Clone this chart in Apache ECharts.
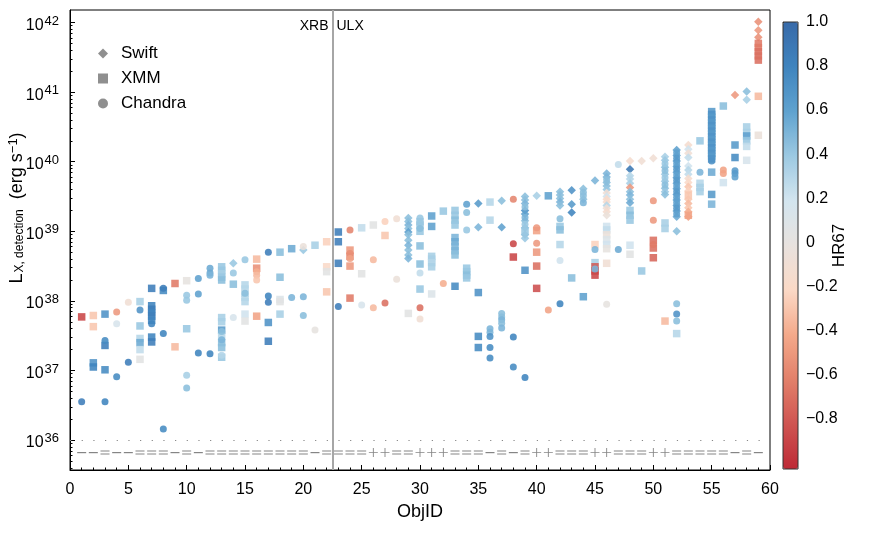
<!DOCTYPE html>
<html><head><meta charset="utf-8">
<script src="https://cdn.jsdelivr.net/npm/echarts@6.0.0/dist/echarts.min.js"></script>
<style>html,body{margin:0;padding:0;background:#fff}#c{width:871px;height:538px}</style>
</head><body><div id="c"></div>
<script>
const FONT = "'Liberation Sans', Arial, sans-serif";

// ---- axes / scales ----
const xMin = 0, xMax = 60, xStep = 5;
const yMinLog = 35.57, yMaxLog = 42.18;          // log10(L_X) range of the plot
const yTickExps = [36, 37, 38, 39, 40, 41, 42];
const hrMin = -1.03, hrMax = 1.0;
const hrTicks = [1.0, 0.8, 0.6, 0.4, 0.2, 0, -0.2, -0.4, -0.6, -0.8];
const hrColors = ['#bd2a36','#cf5451','#e2806a','#f4a98a','#fbd9c6','#e8e2de','#d3e5ef','#9cc9e2','#5fa2cf','#3f84be','#386aa9'];

// ---- reference lines ----
const boundaryObjId = 22.5;        // XRB | ULX split
const detectionFloorLogL = 36;     // dotted line
const flagRowLogL = 35.82;         // row of detection flags

// per-ObjID flags (1..59): '-' , '=' , '+'
const flags = ['-','-','=','-','-','=','=','=','-','=','-','=','=','=','=','=','=','=','=','=','-','=',
  '=','=','=','+','+','=','=','+','+','+','=','=','=','-','=','-','=','+','+','=','=','=','+','+',
  '=','=','=','+','+','=','=','=','=','=','-','=','-'];

// ---- data: [ObjID, log10 L_X (erg/s), HR67] ----
const swiftPts = [
  [14,38.54,0.4],[20,38.73,0.4],
  [29,39.19,0.45],[29,39.14,0.45],[29,39.09,0.5],[29,39.04,0.45],[29,38.99,0.6],[29,38.95,0.45],[29,38.87,0.45],[29,38.80,0.5],[29,38.73,0.45],[29,38.66,0.45],[29,38.61,0.5],
  [35,39.40,0.65],[35,39.06,0.5],
  [37,39.44,0.45],[37,39.06,0.6],
  [39,39.50,0.45],[39,39.45,0.45],[39,39.40,0.5],[39,39.30,0.7],[39,39.25,0.6],[39,39.15,0.45],[39,39.05,0.45],[39,38.95,0.45],[39,38.90,0.4],
  [40,39.51,0.35],
  [42,39.57,0.45],[42,39.52,0.45],[42,39.47,0.45],[42,39.42,0.5],[42,39.37,0.45],
  [43,39.59,0.7],[43,39.39,0.65],[43,39.27,0.8],
  [44,39.61,0.45],[44,39.46,0.45],
  [45,39.73,0.5],
  [46,39.83,0.5],[46,39.78,0.5],[46,39.70,0.45],[46,39.65,0.45],[46,39.60,0.4],[46,39.55,-0.1],[46,39.50,0.2],[46,39.46,-0.2],[46,39.42,-0.15],[46,39.37,0.3],[46,39.33,-0.1],[46,39.28,-0.15],[46,39.23,-0.05],
  [48,40.01,-0.15],[48,39.89,0.9],[48,39.80,0.3],[48,39.75,0.3],[48,39.69,0.35],[48,39.63,-0.5],[48,39.57,0.45],[48,39.52,0.5],[48,39.46,0.45],[48,39.41,0.55],
  [49,40.01,-0.1],[50,40.05,-0.1],
  [51,40.07,0.35],[51,40.02,0.4],[51,39.92,0.45],[51,39.82,0.4],[51,39.72,0.4],[51,39.62,0.45],[51,39.57,0.4],[51,39.53,0.45],
  [52,40.17,0.6],[52,40.09,0.6],[52,40.01,0.65],[52,39.93,0.6],[52,39.85,0.6],[52,39.77,0.65],[52,39.69,0.6],[52,39.61,0.6],[52,39.53,0.65],[52,39.45,0.6],[52,39.37,0.6],[52,39.29,0.6],[52,39.21,0.55],[52,39.00,0.45],
  [53,40.24,-0.15],[53,40.18,0.2],[53,40.12,-0.1],[53,40.06,0.25],[53,39.94,0.2],[53,39.88,0.3],[53,39.82,0.25],[53,39.76,-0.15],[53,39.70,-0.2],[53,39.64,-0.3],[53,39.58,-0.25],[53,39.46,-0.3],[53,39.40,-0.35],[53,39.34,-0.3],[53,39.28,-0.4],[53,39.21,-0.45],
  [57,40.96,-0.5],
  [58,41.01,0.45],[58,40.89,0.35],
  [59,42.01,-0.55],[59,41.89,-0.5],[59,41.79,-0.55]
];

const xmmPts = [
  [1,37.77,-0.9],
  [2,37.79,-0.3],[2,37.63,-0.3],[2,37.11,0.7],[2,37.05,0.8],
  [3,37.81,0.7],[3,37.36,0.85],[3,37.01,0.75],
  [6,37.99,0.35],[6,37.64,0.4],[6,37.46,0.3],[6,37.40,0.55],[6,37.30,0.25],[6,37.16,0.05],
  [7,38.18,0.85],[7,37.93,0.8],[7,37.88,0.85],[7,37.83,0.8],[7,37.78,0.85],[7,37.72,0.8],[7,37.48,0.8],[7,37.41,0.85],
  [8,38.15,0.75],
  [9,38.25,-0.65],[9,37.34,-0.35],
  [10,38.29,0.0],[10,37.60,0.4],
  [13,38.49,0.4],[13,38.44,0.4],[13,38.39,0.35],[13,38.34,0.4],[13,38.30,0.45],[13,37.76,0.35],[13,37.70,0.35],[13,37.58,0.65],[13,37.49,0.3],[13,37.40,0.45],[13,37.33,0.45],[13,37.19,0.4],
  [14,38.24,0.45],
  [15,38.23,0.3],[15,38.17,0.3],[15,38.11,0.25],[15,38.05,0.3],[15,37.99,0.3],[15,37.81,0.2],[15,37.71,0.05],
  [16,38.60,-0.35],[16,38.47,-0.55],[16,37.78,-0.45],
  [17,37.69,0.7],[17,37.42,0.85],
  [18,38.70,0.45],[18,38.34,0.45],[18,38.02,0.1],[18,37.99,0.05],[18,37.81,0.35],
  [19,38.75,0.55],
  [21,38.80,0.35],
  [22,38.85,-0.25],[22,38.49,-0.2],[22,38.42,0.05],[22,38.13,-0.3],
  [23,38.99,0.85],[23,38.85,0.85],[23,38.54,0.85],
  [24,38.73,-0.5],[24,38.64,-0.6],[24,38.50,-0.5],[24,38.04,-0.65],
  [25,39.05,0.25],[25,38.39,0.05],
  [26,39.09,0.05],
  [27,38.94,-0.3],
  [29,37.82,0.05],
  [30,39.14,0.4],[30,39.09,0.4],[30,39.00,0.4],[30,38.79,0.45],[30,38.53,0.45],[30,38.17,0.4],
  [31,39.22,0.6],[31,39.07,0.6],[31,38.64,0.35],[31,38.60,0.35],[31,38.55,0.3],[31,38.49,0.35],[31,38.10,0.1],
  [32,39.29,0.4],
  [33,39.30,0.4],[33,39.23,0.4],[33,39.16,0.45],[33,39.09,0.4],[33,38.91,0.5],[33,38.85,0.55],[33,38.78,0.5],[33,38.72,0.5],[33,38.66,0.45],[33,38.21,0.75],
  [34,38.47,0.4],[34,38.42,0.4],[34,38.37,0.45],[34,38.33,0.4],
  [35,38.12,0.7],[35,37.49,0.75],[35,37.33,0.75],
  [36,39.42,0.3],[36,39.16,0.3],
  [38,38.63,-0.9],
  [39,39.00,0.4],[39,38.44,0.7],
  [40,39.01,-0.45],[40,38.70,-0.5],[40,38.50,-0.7],[40,38.18,-0.85],
  [41,39.51,0.6],
  [42,39.07,0.4],[42,39.02,0.45],[42,38.81,0.3],
  [43,38.33,0.45],
  [44,38.06,0.6],
  [45,38.81,-0.25],[45,38.55,0.35],[45,38.49,-0.8],[45,38.43,-0.85],[45,38.37,-0.9],
  [46,39.07,0.2],[46,39.02,0.25],[46,38.95,-0.05],[46,38.88,0.1],[46,38.81,0.2],[46,38.75,0.0],[46,38.54,-0.1],
  [48,39.30,0.4],[48,39.23,0.45],[48,39.16,0.4],[48,38.80,0.2],[48,38.67,0.05],
  [49,38.43,0.4],
  [50,38.87,-0.7],[50,38.76,-0.7],[50,38.62,-0.75],
  [51,39.12,0.35],[51,39.04,0.35],[51,37.71,-0.35],
  [52,37.53,0.3],
  [53,39.52,-0.3],[53,39.23,-0.45],
  [54,40.30,0.4],[54,39.69,0.3],[54,39.63,0.35],[54,39.57,0.35],
  [55,40.72,0.65],[55,40.68,0.7],[55,40.64,0.65],[55,40.60,0.7],[55,40.56,0.65],[55,40.52,0.7],[55,40.48,0.65],[55,40.44,0.7],[55,40.40,0.65],[55,40.36,0.7],[55,40.32,0.65],[55,40.28,0.7],[55,40.24,0.65],[55,40.20,0.7],[55,40.16,0.65],[55,40.12,0.7],[55,40.08,0.65],[55,40.04,0.7],
  [55,39.85,0.55],[55,39.53,0.65],[55,39.39,0.5],
  [56,40.80,0.45],[56,39.70,0.2],
  [57,40.24,0.65],[57,40.06,0.75],
  [58,40.50,0.35],[58,40.42,0.35],[58,40.37,0.6],[58,40.30,0.4],[58,40.22,0.25],[58,40.02,0.15],
  [59,41.70,-0.65],[59,41.64,-0.65],[59,41.58,-0.7],[59,41.52,-0.7],[59,41.46,-0.7],[59,40.94,-0.35],[59,40.38,-0.05]
];

const chandraPts = [
  [1,36.55,0.85],
  [3,37.43,0.75],[3,36.55,0.8],
  [4,37.84,-0.5],[4,37.67,0.15],[4,36.91,0.75],
  [5,37.98,-0.1],[5,37.12,0.85],
  [6,37.87,0.7],
  [7,37.67,0.8],
  [8,38.18,0.85],[8,37.53,0.8],[8,36.16,0.75],
  [10,38.08,0.4],[10,38.01,0.4],[10,36.93,0.35],[10,36.75,0.45],
  [11,38.32,0.6],[11,38.10,0.6],[11,37.25,0.8],
  [12,38.47,0.55],[12,38.40,0.55],[12,38.37,0.5],[12,37.24,0.8],
  [13,37.56,0.45],[13,37.44,0.5],[13,37.22,0.3],
  [14,38.40,0.4],[14,37.76,0.15],
  [15,38.59,0.4],[15,38.11,0.45],
  [16,38.42,-0.4],[16,38.37,-0.35],[16,38.30,-0.3],
  [17,38.70,0.85],[17,38.07,0.8],[17,37.98,0.85],
  [19,38.05,0.5],
  [20,38.78,-0.05],[20,38.06,0.5],[20,37.79,0.45],
  [21,37.58,0.0],
  [23,37.92,0.85],
  [24,39.02,-0.6],[24,38.68,-0.55],[24,38.61,-0.45],
  [25,37.94,0.15],
  [26,38.59,-0.35],[26,37.90,-0.35],
  [27,39.14,-0.25],[27,37.97,-0.7],
  [28,39.18,-0.1],[28,38.31,-0.05],
  [30,39.19,0.4],[30,39.04,0.45],[30,38.40,0.25],[30,37.90,-0.7],[30,37.74,-0.1],
  [32,38.25,-0.4],
  [34,39.39,0.6],[34,39.27,0.45],[34,39.02,0.4],
  [36,37.60,0.5],[36,37.55,0.5],[36,37.49,0.7],[36,37.33,0.75],[36,37.18,0.75],
  [37,37.82,0.45],[37,37.77,0.45],[37,37.73,0.5],[37,37.68,0.45],[37,37.61,0.5],
  [38,39.46,-0.6],[38,38.82,-0.9],[38,37.48,0.8],[38,37.05,0.75],
  [39,39.35,0.45],[39,39.20,0.5],[39,39.10,0.4],[39,36.90,0.8],
  [40,39.05,-0.5],[40,38.83,-0.5],
  [41,37.87,-0.45],
  [42,39.18,0.45],[42,38.58,0.2],[42,37.96,0.8],
  [44,39.56,0.45],[44,39.51,0.45],[44,39.41,0.5],
  [45,38.74,0.5],[45,38.46,0.5],
  [46,39.74,0.45],[46,37.95,0.0],
  [47,39.96,0.25],[47,38.74,0.55],
  [50,39.44,-0.5],[50,39.16,-0.5],[50,38.81,-0.65],
  [51,39.97,0.4],[51,39.87,0.45],[51,39.77,0.4],[51,39.67,0.45],
  [52,40.13,0.6],[52,40.05,0.65],[52,39.97,0.6],[52,39.89,0.65],[52,39.81,0.6],[52,39.73,0.65],[52,39.65,0.6],[52,39.57,0.65],[52,39.49,0.6],[52,39.41,0.6],[52,39.33,0.65],[52,39.25,0.6],
  [52,37.96,0.45],[52,37.81,0.7],[52,37.71,0.45],
  [54,39.85,0.5],
  [55,40.01,0.7],
  [56,39.88,-0.45],[56,39.83,-0.45],
  [57,39.87,0.65],[57,39.83,0.65],[57,39.78,0.6]
];

// ---- derived helpers ----
const minorTickVals = [];
for (let n = 35; n <= 42; n++) for (let k = 2; k <= 9; k++) {
  const v = n + Math.log10(k);
  if (v > yMinLog && v < yMaxLog) minorTickVals.push(v);
}
const flagData = { '-': [], '=': [], '+': [] };
flags.forEach((f, i) => flagData[f].push([i + 1, flagRowLogL]));

const flagSymbols = {
  '-': { path: 'path://M0,0L10,0L10,1L0,1Z', size: [9, 1.2] },
  '=': { path: 'path://M0,0L10,0L10,1L0,1Z M0,3L10,3L10,4L0,4Z', size: [9, 4] },
  '+': { path: 'path://M0,4.5L10,4.5L10,5.5L0,5.5Z M4.5,0L5.5,0L5.5,10L4.5,10Z', size: [9, 9] }
};

function instSeries(name, symbol, size, pts) {
  return { name, type: 'scatter', symbol, symbolSize: size, data: pts,
    itemStyle: { opacity: 0.88 }, emphasis: { disabled: true }, z: 3, silent: true };
}
function flagSeries(key, extra) {
  return Object.assign({ type: 'scatter', symbol: flagSymbols[key].path, symbolSize: flagSymbols[key].size,
    data: flagData[key], itemStyle: { color: '#666' }, silent: true, z: 2 }, extra || {});
}

const chart = echarts.init(document.getElementById('c'), null, { renderer: 'canvas' });
const txt = { fontFamily: FONT, color: '#000' };

chart.setOption({
  animation: false,
  backgroundColor: '#fff',
  textStyle: { fontFamily: FONT },
  grid: [
    { left: 70, right: 101, top: 10, bottom: 68, show: true, borderColor: '#000', borderWidth: 1,
      backgroundColor: 'transparent', containLabel: false, outerBoundsMode: 'none' },
    { left: 783, top: 22, width: 15, height: 447, show: true, borderColor: '#333', borderWidth: 1,
      backgroundColor: 'transparent', z: 10, containLabel: false, outerBoundsMode: 'none' }
  ],
  xAxis: [
    { type: 'value', gridIndex: 0, min: xMin, max: xMax, interval: xStep,
      name: 'ObjID', nameLocation: 'middle', nameGap: 33, nameMoveOverlap: false,
      nameTextStyle: Object.assign({ fontSize: 18 }, txt),
      axisLine: { lineStyle: { color: '#000', width: 1 } },
      axisTick: { inside: true, length: 5, lineStyle: { color: '#000' } },
      minorTick: { show: true, splitNumber: 5, length: 2.5, lineStyle: { color: '#000' } },
      axisLabel: Object.assign({ fontSize: 16, margin: 12 }, txt),
      splitLine: { show: false } },
    { type: 'value', gridIndex: 1, min: 0, max: 1, show: false }
  ],
  yAxis: [
    { type: 'value', gridIndex: 0, position: 'left', min: yMinLog, max: yMaxLog,
      name: '{L|L}{sub|X, detection}{t|  (erg s}{sup|\u22121}{t|)}',
      nameLocation: 'middle', nameRotate: 90, nameGap: 43, nameMoveOverlap: false,
      nameTextStyle: { fontFamily: FONT, color: '#000', padding: [0, 0, 0, 64], rich: {
        L: { fontFamily: FONT, fontSize: 18, lineHeight: 20, padding: [4, 0, 4, 0], verticalAlign: 'middle', color: '#000' },
        t: { fontFamily: FONT, fontSize: 18, lineHeight: 20, padding: [4, 0, 4, 0], verticalAlign: 'middle', color: '#000' },
        sub: { fontFamily: FONT, fontSize: 12, lineHeight: 12, padding: [0, 0, 1, 1], verticalAlign: 'bottom', color: '#000' },
        sup: { fontFamily: FONT, fontSize: 13, lineHeight: 13, verticalAlign: 'top', color: '#000' } } },
      axisLine: { lineStyle: { color: '#000', width: 1 } },
      axisTick: { inside: true, length: 5, customValues: yTickExps, lineStyle: { color: '#000' } },
      axisLabel: { customValues: yTickExps, margin: 11,
        formatter: v => '{b|10}{s|' + Math.round(v) + '}',
        rich: {
          b: { fontFamily: FONT, fontSize: 16, lineHeight: 16, padding: [6, 0, 0, 0], verticalAlign: 'middle', color: '#000' },
          s: { fontFamily: FONT, fontSize: 13, lineHeight: 13, verticalAlign: 'top', color: '#000', padding: [0, 0, 0, 1] } } },
      splitLine: { show: false } },
    { type: 'value', gridIndex: 0, position: 'left', offset: 0, min: yMinLog, max: yMaxLog,
      axisLine: { show: false }, axisLabel: { show: false }, splitLine: { show: false },
      axisTick: { inside: true, length: 2.5, customValues: minorTickVals, lineStyle: { color: '#000' } } },
    { type: 'value', gridIndex: 1, position: 'right', min: hrMin, max: hrMax,
      name: 'HR67', nameLocation: 'middle', nameRotate: 90, nameGap: 33, nameMoveOverlap: false,
      nameTextStyle: Object.assign({ fontSize: 17 }, txt),
      axisLine: { show: false }, splitLine: { show: false },
      axisTick: { show: true, inside: false, length: 3, customValues: hrTicks, lineStyle: { color: '#000' } },
      axisLabel: Object.assign({ customValues: hrTicks, fontSize: 16, margin: 8,
        formatter: v => { const r = Math.round(v * 10) / 10; if (r === 0) return '0';
          const s = Math.abs(r).toFixed(1); return (r < 0 ? '\u2212' : '') + s; } }, txt) }
  ],
  visualMap: {
    type: 'continuous', min: hrMin, max: hrMax, dimension: 2, seriesIndex: [0, 1, 2],
    inRange: { color: hrColors }, orient: 'vertical', left: 783, top: 22,
    itemWidth: 15, itemHeight: 447, calculable: false, hoverLink: false, padding: 0, text: null
  },
  legend: {
    orient: 'vertical', left: 98, top: 45, padding: 0, itemGap: 8, itemWidth: 10, itemHeight: 10,
    selectedMode: false,
    textStyle: { fontFamily: FONT, fontSize: 17, color: '#000', lineHeight: 16, padding: [0, 0, 0, 8] },
    data: [
      { name: 'Swift', icon: 'diamond', itemStyle: { color: '#808080' } },
      { name: 'XMM', icon: 'rect', itemStyle: { color: '#808080' } },
      { name: 'Chandra', icon: 'circle', itemStyle: { color: '#808080' } }
    ]
  },
  series: [
    instSeries('Swift', 'diamond', 8.5, swiftPts),
    instSeries('XMM', 'rect', 7.5, xmmPts),
    instSeries('Chandra', 'circle', 7, chandraPts),
    flagSeries('-', {
      markLine: { silent: true, symbol: 'none', label: { show: false }, animation: false,
        data: [
          { yAxis: detectionFloorLogL, lineStyle: { color: '#888', width: 1.2, type: [1.2, 10.47] } },
          { xAxis: boundaryObjId, lineStyle: { color: '#a6a6a6', width: 2, type: 'solid' } }
        ] } }),
    flagSeries('='),
    flagSeries('+')
  ]
});

// "XRB | ULX" annotation beside the boundary line
const bx = chart.convertToPixel({ xAxisIndex: 0 }, boundaryObjId);
const topY = chart.convertToPixel({ yAxisIndex: 0 }, yMaxLog);
chart.setOption({
  graphic: [
    { type: 'text', x: bx - 4, y: topY + 16, silent: true,
      style: { text: 'XRB', fill: '#000', font: '14px ' + FONT, align: 'right', verticalAlign: 'middle' } },
    { type: 'text', x: bx + 4, y: topY + 16, silent: true,
      style: { text: 'ULX', fill: '#000', font: '14px ' + FONT, align: 'left', verticalAlign: 'middle' } }
  ]
});
</script></body></html>
